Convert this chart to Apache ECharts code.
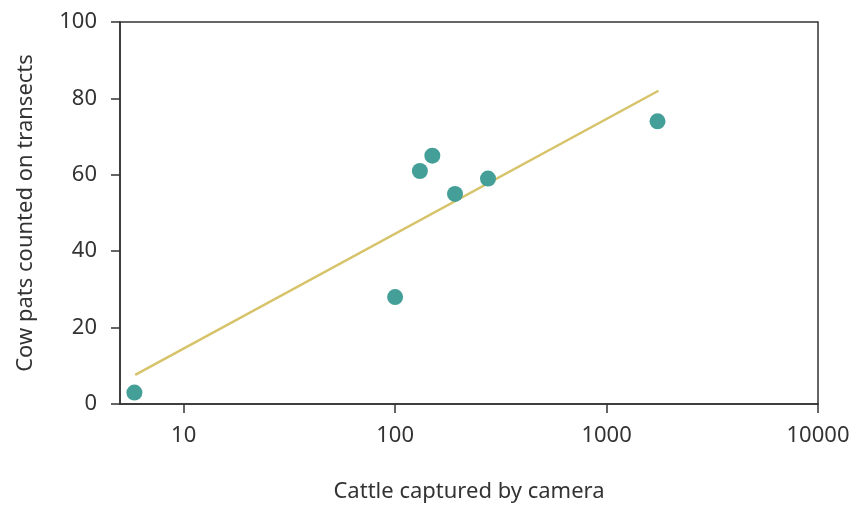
<!DOCTYPE html>
<html>
<head>
<meta charset="utf-8">
<script src="https://cdn.jsdelivr.net/npm/echarts@6/dist/echarts.min.js"></script>
<style>html,body{margin:0;padding:0;background:#fff;}#c{width:865px;height:506px;}</style>
</head>
<body>
<div id="c"></div>
<script>
const cattle = [5.85, 100, 131, 150, 192, 275, 1742];
const cowPats = [3, 28, 61, 65, 55, 59, 74];
const trendX = [5.9, 1760];
const trendY = [7.6, 82];
const xTickValues = [10, 100, 1000, 10000];

const font = 'Noto Sans';
const axisColor = '#333333';
const chart = echarts.init(document.getElementById('c'));
chart.setOption({
  animation: false,
  backgroundColor: '#ffffff',
  grid: { left: 120, right: 47, top: 22, bottom: 102, outerBoundsMode: 'none', containLabel: false,
    show: true, borderColor: axisColor, borderWidth: 1.5, backgroundColor: 'transparent' },
  xAxis: {
    type: 'log', logBase: 10, min: 5, max: 10000,
    name: 'Cattle captured by camera', nameLocation: 'middle', nameGap: 77,
    nameTextStyle: { fontFamily: font, fontSize: 22, color: axisColor },
    axisLine: { show: true, lineStyle: { color: axisColor, width: 1.5 } },
    axisTick: { show: true, inside: false, length: 9, customValues: xTickValues, lineStyle: { color: axisColor, width: 1.5 } },
    axisLabel: { fontFamily: font, fontSize: 22, color: axisColor, margin: 21, customValues: xTickValues,
      formatter: v => String(Math.round(v)) },
    splitLine: { show: false }
  },
  yAxis: {
    type: 'value', min: 0, max: 100, interval: 20,
    name: 'Cow pats counted on transects', nameLocation: 'middle', nameGap: 83,
    nameTextStyle: { fontFamily: font, fontSize: 22, color: axisColor },
    axisLine: { show: true, lineStyle: { color: axisColor, width: 1.5 } },
    axisTick: { show: true, inside: false, length: 9, lineStyle: { color: axisColor, width: 1.5 } },
    axisLabel: { fontFamily: font, fontSize: 22, color: axisColor, margin: 23 },
    splitLine: { show: false }
  },
  series: [
    {
      type: 'line', data: trendX.map((x, i) => [x, trendY[i]]), symbol: 'none',
      lineStyle: { color: '#d6c36a', width: 2.5 }, z: 2
    },
    {
      type: 'scatter', data: cattle.map((x, i) => [x, cowPats[i]]), symbolSize: 16,
      itemStyle: { color: '#449f99', opacity: 1 }, z: 3
    }
  ]
});
</script>
</body>
</html>
